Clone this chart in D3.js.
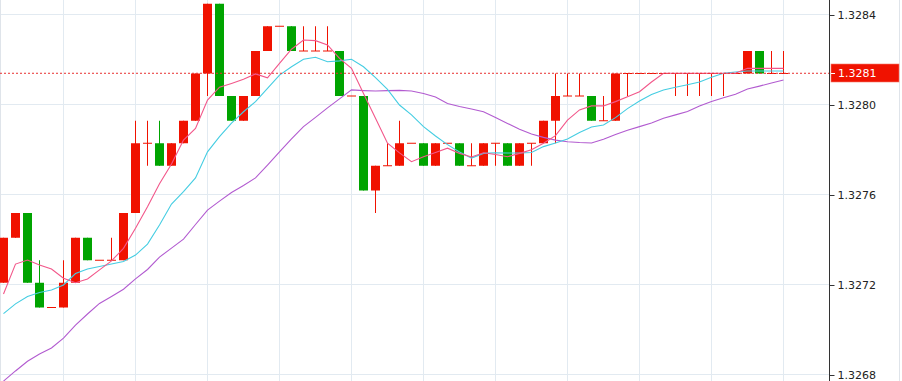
<!DOCTYPE html>
<html>
<head>
<meta charset="utf-8">
<script src="https://cdn.jsdelivr.net/npm/d3@7/dist/d3.min.js"></script>
<style>
  html, body { margin: 0; padding: 0; background: #fff; }
  svg { display: block; }
</style>
</head>
<body>
<svg id="chart" width="902" height="381"></svg>
<script>
// ---------------- DATA ----------------
const openP = [
  1.32721,1.32741,1.32752,1.32721,1.32710,1.32710,1.32721,1.32741,1.32731,1.32731,
  1.32731,1.32752,1.32783,1.32783,1.32773,1.32783,1.32793,1.32814,1.32845,1.32804,
  1.32793,1.32804,1.32824,1.32835,1.32835,1.32824,1.32824,1.32824,1.32824,1.32804,
  1.32804,1.32762,1.32773,1.32773,1.32783,1.32783,1.32773,1.32783,1.32783,1.32773,
  1.32773,1.32783,1.32783,1.32773,1.32783,1.32783,1.32793,1.32804,1.32804,1.32804,
  1.32793,1.32793,1.32814,1.32814,1.32814,1.32814,1.32814,1.32814,1.32814,1.32814,
  1.32814,1.32814,1.32814,1.32824,1.32814,1.32814
];
const highP = [
  1.32741,1.32752,1.32752,1.32731,1.32710,1.32731,1.32741,1.32741,1.32731,1.32741,
  1.32752,1.32793,1.32793,1.32793,1.32783,1.32793,1.32814,1.32845,1.32845,1.32804,
  1.32804,1.32824,1.32835,1.32835,1.32835,1.32835,1.32835,1.32835,1.32824,1.32804,
  1.32804,1.32773,1.32783,1.32793,1.32783,1.32783,1.32783,1.32783,1.32783,1.32783,
  1.32783,1.32783,1.32783,1.32783,1.32783,1.32793,1.32814,1.32814,1.32814,1.32804,
  1.32804,1.32814,1.32814,1.32814,1.32814,1.32814,1.32814,1.32814,1.32814,1.32814,
  1.32814,1.32814,1.32824,1.32824,1.32824,1.32824
];
const lowP = [
  1.32721,1.32741,1.32721,1.32710,1.32710,1.32710,1.32721,1.32731,1.32731,1.32731,
  1.32731,1.32752,1.32773,1.32773,1.32773,1.32783,1.32793,1.32804,1.32804,1.32793,
  1.32793,1.32804,1.32824,1.32835,1.32824,1.32824,1.32824,1.32824,1.32804,1.32804,
  1.32762,1.32752,1.32773,1.32773,1.32783,1.32773,1.32773,1.32783,1.32773,1.32773,
  1.32773,1.32773,1.32773,1.32773,1.32773,1.32783,1.32783,1.32804,1.32804,1.32793,
  1.32793,1.32793,1.32804,1.32814,1.32814,1.32814,1.32804,1.32804,1.32804,1.32804,
  1.32804,1.32814,1.32814,1.32814,1.32814,1.32814
];
const closeP = [
  1.32741,1.32752,1.32721,1.32710,1.32710,1.32721,1.32741,1.32731,1.32731,1.32731,
  1.32752,1.32783,1.32783,1.32773,1.32783,1.32793,1.32814,1.32845,1.32804,1.32793,
  1.32804,1.32824,1.32835,1.32835,1.32824,1.32824,1.32824,1.32824,1.32804,1.32804,
  1.32762,1.32773,1.32773,1.32783,1.32783,1.32773,1.32783,1.32783,1.32773,1.32773,
  1.32783,1.32783,1.32773,1.32783,1.32783,1.32793,1.32804,1.32804,1.32804,1.32793,
  1.32793,1.32814,1.32814,1.32814,1.32814,1.32814,1.32814,1.32814,1.32814,1.32814,
  1.32814,1.32814,1.32824,1.32814,1.32814,1.32814
];
const maFast = [
  1.327160,1.327293,1.327311,1.327289,1.327271,1.327230,1.327210,1.327227,1.327267,1.327307,
  1.327363,1.327452,1.327548,1.327650,1.327738,1.327844,1.327896,1.328022,1.328079,1.328096,
  1.328114,1.328138,1.328121,1.328185,1.328248,1.328289,1.328286,1.328267,1.328207,1.328163,
  1.328051,1.327941,1.327830,1.327787,1.327748,1.327770,1.327789,1.327808,1.327785,1.327769,
  1.327788,1.327780,1.327770,1.327785,1.327801,1.327830,1.327864,1.327933,1.327978,1.327996,
  1.327996,1.328015,1.328037,1.328059,1.328102,1.328141,1.328141,1.328141,1.328141,1.328141,
  1.328141,1.328141,1.328163,1.328163,1.328163,1.328163
];
const maMid = [
  1.327073,1.327116,1.327149,1.327167,1.327178,1.327200,1.327251,1.327271,1.327282,1.327293,
  1.327304,1.327333,1.327382,1.327467,1.327560,1.327615,1.327676,1.327792,1.327859,1.327919,
  1.327970,1.328015,1.328074,1.328133,1.328170,1.328203,1.328212,1.328192,1.328196,1.328203,
  1.328170,1.328122,1.328069,1.328000,1.327956,1.327904,1.327862,1.327824,1.327791,1.327764,
  1.327785,1.327788,1.327787,1.327787,1.327789,1.327815,1.327831,1.327849,1.327878,1.327902,
  1.327911,1.327944,1.327984,1.328018,1.328047,1.328067,1.328079,1.328090,1.328102,1.328123,
  1.328141,1.328147,1.328151,1.328151,1.328151,1.328151
];
const maSlow = [
  1.326773,1.326818,1.326861,1.326893,1.326920,1.326964,1.327022,1.327071,1.327118,1.327149,
  1.327181,1.327227,1.327269,1.327324,1.327364,1.327404,1.327469,1.327533,1.327573,1.327611,
  1.327642,1.327676,1.327733,1.327792,1.327849,1.327904,1.327945,1.327987,1.328027,1.328067,
  1.328064,1.328062,1.328064,1.328065,1.328062,1.328051,1.328036,1.328007,1.327993,1.327982,
  1.327970,1.327944,1.327918,1.327892,1.327871,1.327856,1.327844,1.327837,1.327833,1.327831,
  1.327848,1.327869,1.327888,1.327904,1.327920,1.327941,1.327956,1.327971,1.327996,1.328016,
  1.328032,1.328048,1.328071,1.328084,1.328098,1.328111
];
const yTicks = [1.3268, 1.3272, 1.3276, 1.3280, 1.3284];
const gridCandles = [5, 11, 17, 23, 29, 35, 41, 47, 53, 59, 65];
const lastPrice = 1.328141;

// ---------------- LAYOUT ----------------
const W = 902, H = 381;
const plotRight = 829;
const svg = d3.select("#chart");

const n = openP.length;
const x = d3.scaleLinear().domain([0, n - 1]).range([3.5, 783.5]);
const y = d3.scaleLinear().domain([1.3268, 1.3284]).range([375, 15]);

const UP = "#f01200", DOWN = "#00a400";
const GRID = "#e2eaf1";

// clip
svg.append("defs").append("clipPath").attr("id", "plotclip")
  .append("rect").attr("x", 0).attr("y", 0).attr("width", plotRight).attr("height", H);

// grid
const grid = svg.append("g");
grid.selectAll("line.h").data(yTicks).join("line")
  .attr("x1", 0).attr("x2", plotRight)
  .attr("y1", d => Math.round(y(d)) - 0.5).attr("y2", d => Math.round(y(d)) - 0.5)
  .attr("stroke", GRID).attr("stroke-width", 1);
grid.selectAll("line.v").data(gridCandles).join("line")
  .attr("x1", d => x(d)).attr("x2", d => x(d))
  .attr("y1", 0).attr("y2", H)
  .attr("stroke", GRID).attr("stroke-width", 1);
// border lines
svg.append("line").attr("x1", 0.5).attr("x2", 0.5).attr("y1", 0).attr("y2", H)
  .attr("stroke", "#dfe4ea");
svg.append("line").attr("x1", 899.5).attr("x2", 899.5).attr("y1", 0).attr("y2", H)
  .attr("stroke", "#dfe4ea");

const plot = svg.append("g").attr("clip-path", "url(#plotclip)");

// candles
const idx = d3.range(n);
const col = i => closeP[i] < openP[i] ? DOWN : UP;
const cw = 9;

plot.append("g").selectAll("line").data(idx).join("line")
  .attr("x1", i => x(i)).attr("x2", i => x(i))
  .attr("y1", i => y(highP[i])).attr("y2", i => y(lowP[i]))
  .attr("stroke", col).attr("stroke-width", 1);

const bodies = idx.filter(i => openP[i] !== closeP[i]);
const dojis = idx.filter(i => openP[i] === closeP[i]);

plot.append("g").selectAll("rect").data(bodies).join("rect")
  .attr("x", i => x(i) - cw / 2)
  .attr("width", cw)
  .attr("y", i => y(Math.max(openP[i], closeP[i])))
  .attr("height", i => Math.abs(y(openP[i]) - y(closeP[i])))
  .attr("fill", col);

plot.append("g").selectAll("line").data(dojis).join("line")
  .attr("x1", i => x(i) - cw / 2).attr("x2", i => x(i) + cw / 2)
  .attr("y1", i => y(openP[i])).attr("y2", i => y(openP[i]))
  .attr("stroke", UP).attr("stroke-width", 1);

// moving averages
const line = arr => d3.line().x((d, i) => x(i)).y(d => y(d))(arr);
plot.append("path").attr("d", line(maSlow)).attr("fill", "none")
  .attr("stroke", "#b25bd0").attr("stroke-width", 1.1);
plot.append("path").attr("d", line(maMid)).attr("fill", "none")
  .attr("stroke", "#45cde2").attr("stroke-width", 1.1);
plot.append("path").attr("d", line(maFast)).attr("fill", "none")
  .attr("stroke", "#f2578a").attr("stroke-width", 1.1);

// current price line
plot.append("line")
  .attr("x1", 0).attr("x2", plotRight)
  .attr("y1", y(lastPrice)).attr("y2", y(lastPrice))
  .attr("stroke", "#e83030").attr("stroke-width", 1)
  .attr("stroke-dasharray", "2,2");

// right axis
const axis = d3.axisRight(y).tickValues(yTicks).tickSize(5).tickPadding(3)
  .tickFormat(d3.format(".4f"));
const ag = svg.append("g").attr("transform", `translate(${plotRight + 0.5},0)`).call(axis);
ag.select(".domain").attr("stroke", "#333").attr("d", `M0,0V${H}`);
ag.selectAll(".tick line").attr("stroke", "#333");
ag.selectAll(".tick text")
  .attr("font-family", "'DejaVu Sans', Verdana, sans-serif")
  .attr("font-size", 11).attr("fill", "#222");

// last price label
const ly = y(lastPrice);
svg.append("rect").attr("x", 831).attr("y", Math.round(ly) - 9)
  .attr("width", 68).attr("height", 18)
  .attr("fill", UP).attr("stroke", "#f57a6a").attr("stroke-width", 0.6);
svg.append("line").attr("x1", 831).attr("x2", 835)
  .attr("y1", Math.round(ly) + 0.5).attr("y2", Math.round(ly) + 0.5)
  .attr("stroke", "#fff");
svg.append("text").attr("x", 838).attr("y", Math.round(ly) + 1)
  .attr("dominant-baseline", "middle")
  .attr("font-family", "'DejaVu Sans', Verdana, sans-serif")
  .attr("font-size", 11).attr("fill", "#fff")
  .text(d3.format(".4f")(lastPrice));
</script>
</body>
</html>
